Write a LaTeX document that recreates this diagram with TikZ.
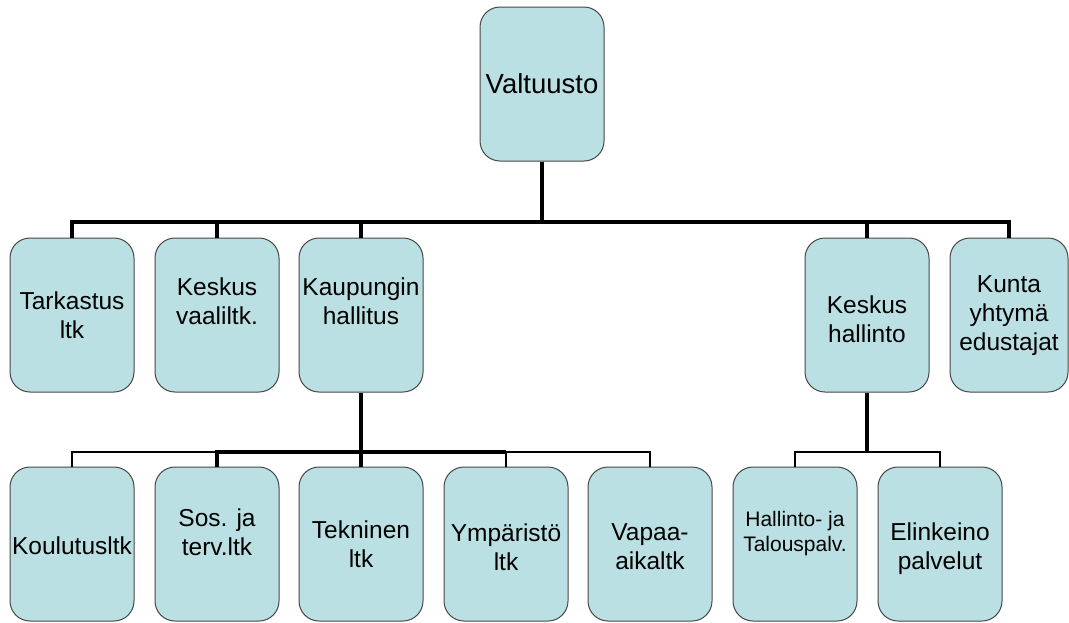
\documentclass[tikz,border=0pt]{standalone}
\usepackage{fontspec}
\setmainfont{Liberation Sans}
\definecolor{boxfill}{RGB}{187,224,227}
\definecolor{boxline}{RGB}{70,70,70}

\begin{document}
\begin{tikzpicture}[x=1pt,y=-1pt,
    box/.style={draw=boxline,line width=1pt,fill=boxfill,rounded corners=20pt,
      minimum width=124pt,minimum height=154pt,inner sep=0pt},
    lbl/.style={align=center,inner sep=0pt,font=\fontsize{24.5}{29}\selectfont},
    main/.style={line width=3.3pt},
    thin/.style={line width=2.7pt}]

    \useasboundingbox (0,0) rectangle (1069,622);

    % Top level
    \node[box] (val) at (542,84) {};

    % Second row
    \node[box] (tark) at (72,315) {};
    \node[box] (vaali) at (217,315) {};
    \node[box] (kh) at (361,315) {};
    \node[box] (kesk) at (867,315) {};
    \node[box,minimum width=118pt] (kunta) at (1009,315) {};

    % Third row
    \node[box] (koul) at (72,544) {};
    \node[box] (sos) at (217,544) {};
    \node[box] (tekn) at (361,544) {};
    \node[box] (ymp) at (506,544) {};
    \node[box] (vapaa) at (650,544) {};
    \node[box] (hal) at (795,544) {};
    \node[box] (elin) at (940,544) {};

    % Texts
    \node[lbl,font=\fontsize{27.5}{32}\selectfont] (valt) at (val.center) {Valtuusto};
    \node[lbl] (tarkt) at (tark.center) {Tarkastus\\ltk};
    \node[lbl] (vaalit) at ([yshift=13.5pt]vaali.center) {Keskus\\vaaliltk.};
    \node[lbl] (kht) at ([yshift=14pt]kh.center) {Kaupungin\\hallitus};
    \node[lbl] (keskt) at ([yshift=-4pt]kesk.center) {Keskus\\hallinto};
    \node[lbl] (kuntat) at ([yshift=-1pt]kunta.center) {Kunta\\yhtymä\\edustajat};
    \node[lbl] (koult) at ([yshift=-2pt]koul.center) {Koulutusltk};
    \node[lbl] (sost) at ([yshift=11.5pt]sos.center) {Sos. ja\\terv.ltk};
    \node[lbl] (teknt) at (tekn.center) {Tekninen\\ltk};
    \node[lbl] (ympt) at ([yshift=-3pt]ymp.center) {Ympäristö\\ltk};
    \node[lbl] (vapaat) at ([yshift=-3pt]vapaa.center) {Vapaa-\\aikaltk};
    \node[lbl,font=\fontsize{21}{25}\selectfont] (halt) at ([yshift=10.5pt]hal.center) {Hallinto- ja\\Talouspalv.};
    \node[lbl] (elint) at ([yshift=-4.5pt]elin.center) {Elinkeino\\palvelut};

    % Connectors
    \coordinate (bus1) at (val.south |- 0,222);
    \coordinate (bus2) at (kh.south |- 0,452);
    \coordinate (bus3) at (kesk.south |- 0,452);

    \draw[main] (val) -- (bus1);
    \foreach \n in {tark,vaali,kh,kesk,kunta} {
      \draw[main] (\n.north) |- (bus1);
    }

    \draw[main] (kh) -- (tekn);
    \foreach \n in {koul,ymp,vapaa} {
      \draw[thin] (\n.north) |- (bus2);
    }
    \draw[main] (sos.north) |- (bus2) -- (bus2 -| ymp.north);

    \draw[main] (kesk) -- (bus3);
    \foreach \n in {hal,elin} {
      \draw[thin] (\n.north) |- (bus3);
    }
  \end{tikzpicture}
\end{document}
